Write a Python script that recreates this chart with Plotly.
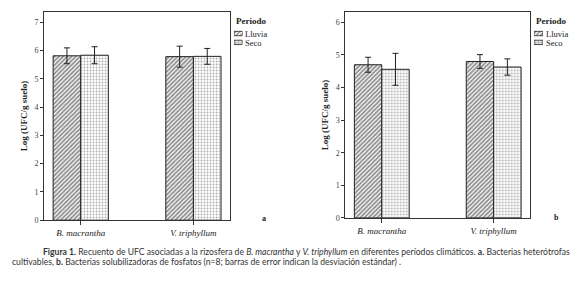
import plotly.graph_objects as go

categories = ["B. macrantha", "V. triphyllum"]
periods = ["Lluvia", "Seco"]

# Panel a: Bacterias heterótrofas cultivables
a_lluvia = [5.81, 5.78]
a_lluvia_err = [0.28, 0.37]
a_seco = [5.83, 5.79]
a_seco_err = [0.30, 0.28]

# Panel b: Bacterias solubilizadoras de fosfatos
b_lluvia = [4.70, 4.80]
b_lluvia_err = [0.23, 0.21]
b_seco = [4.56, 4.63]
b_seco_err = [0.49, 0.25]

y_ticks_a = [0, 1, 2, 3, 4, 5, 6, 7]
y_ticks_b = [0, 1, 2, 3, 4, 5, 6]

W, H = 579, 285
serif = "Liberation Serif, Times New Roman, serif"
ink = "#222222"

patterns = {
    "Lluvia": dict(shape="/", size=3, solidity=0.6, fgcolor="#1e1e1e", bgcolor="white"),
    "Seco": dict(shape=".", size=3, solidity=0.3, fgcolor="#555555", bgcolor="white"),
}

fig = go.Figure()

def add_panel(vals_l, err_l, vals_s, err_s, xa, ya):
    for name, vals, errs in [("Lluvia", vals_l, err_l), ("Seco", vals_s, err_s)]:
        fig.add_trace(go.Bar(
            x=categories, y=vals, name=name,
            xaxis=xa, yaxis=ya, showlegend=False,
            marker=dict(color="white", pattern=patterns[name],
                        line=dict(color=ink, width=1)),
            error_y=dict(type="data", array=errs, color=ink, thickness=1, width=3),
        ))

add_panel(a_lluvia, a_lluvia_err, a_seco, a_seco_err, "x", "y")
add_panel(b_lluvia, b_lluvia_err, b_seco, b_seco_err, "x2", "y2")

# Legend swatches (drawn as tiny horizontal bars in their own axes)
def add_swatches(xa, ya):
    fig.add_trace(go.Bar(
        y=periods, x=[1, 1], orientation="h", xaxis=xa, yaxis=ya, showlegend=False,
        hoverinfo="skip",
        marker=dict(color="white", line=dict(color=ink, width=0.8),
                    pattern=dict(shape=[patterns[p]["shape"] for p in periods],
                                 fgcolor=[patterns[p]["fgcolor"] for p in periods],
                                 bgcolor="white", size=3, solidity=0.5)),
    ))

add_swatches("x3", "y3")
add_swatches("x4", "y4")

def px_x(p):
    return p / W

def px_y(p):
    return 1 - p / H

xcommon = dict(
    type="category", range=[-0.326, 1.322], showline=True, mirror=True,
    linecolor="#333333", linewidth=1, ticks="outside", ticklen=4, tickcolor="#333333",
    tickvals=categories, ticktext=["<i>%s</i>" % c for c in categories],
    tickfont=dict(family=serif, size=9, color=ink), showgrid=False, zeroline=False,
)
ycommon = dict(
    showline=True, mirror=True, linecolor="#333333", linewidth=1,
    ticks="outside", ticklen=3, tickcolor="#333333",
    tickfont=dict(family=serif, size=8, color="#444444"), showgrid=False, zeroline=False,
    title=dict(text="<b>Log (UFC/g suelo)</b>", font=dict(family=serif, size=9, color=ink), standoff=5),
)
hidden = dict(visible=False, showgrid=False, zeroline=False, fixedrange=True)

fig.update_layout(
    width=W, height=H, margin=dict(l=0, r=0, t=0, b=0),
    paper_bgcolor="white", plot_bgcolor="rgba(0,0,0,0)",
    barmode="group", bargap=0.51, bargroupgap=0,
    showlegend=False,
    xaxis=dict(domain=[px_x(36), px_x(221.7)], anchor="y", **xcommon),
    yaxis=dict(domain=[px_y(216), px_y(4)], anchor="x", range=[0, 7.36], tickvals=y_ticks_a, **ycommon),
    xaxis2=dict(domain=[px_x(337.3), px_x(521.7)], anchor="y2", **xcommon),
    yaxis2=dict(domain=[px_y(213.7), px_y(4)], anchor="x2", range=[0, 6.32], tickvals=y_ticks_b, **ycommon),
    xaxis3=dict(domain=[px_x(226), px_x(234.5)], anchor="y3", range=[0, 1], **hidden),
    yaxis3=dict(domain=[px_y(39.5), px_y(21.5)], anchor="x3", type="category",
                categoryorder="array", categoryarray=["Seco", "Lluvia"], **hidden),
    xaxis4=dict(domain=[px_x(526), px_x(535)], anchor="y4", range=[0, 1], **hidden),
    yaxis4=dict(domain=[px_y(39.5), px_y(21.5)], anchor="x4", type="category",
                categoryorder="array", categoryarray=["Seco", "Lluvia"], **hidden),
)

cap_font = dict(family="Lato", size=8.6, color="#333333")
leg_font = dict(family=serif, size=8.5, color=ink)
annotations = []
for lx, sx in [(225.5, 235), (525.5, 536)]:
    annotations.append(dict(text="<b>Periodo</b>", x=px_x(lx), y=px_y(13), xref="paper", yref="paper",
                            xanchor="left", yanchor="middle", showarrow=False,
                            font=dict(family=serif, size=9, color=ink)))
    for p, yy in zip(periods, [26, 35.5]):
        annotations.append(dict(text=p, x=px_x(sx), y=px_y(yy), xref="paper", yref="paper",
                                xanchor="left", yanchor="middle", showarrow=False, font=leg_font))
annotations += [
    dict(text="<b>a</b>", x=px_x(256), y=px_y(221), xref="paper", yref="paper",
         showarrow=False, font=dict(family=serif, size=8, color=ink)),
    dict(text="<b>b</b>", x=px_x(553), y=px_y(220), xref="paper", yref="paper",
         showarrow=False, font=dict(family=serif, size=8, color=ink)),
    dict(text="<b>Figura 1.</b> Recuento de UFC asociadas a la rizosfera de <i>B. macrantha</i> y <i>V. triphyllum</i> en diferentes períodos climáticos. <b>a.</b> Bacterias heterótrofas",
         x=px_x(33), y=px_y(248), xref="paper", yref="paper", xanchor="left", yanchor="middle",
         showarrow=False, font=cap_font),
    dict(text="cultivables, <b>b.</b> Bacterias solubilizadoras de fosfatos (n=8; barras de error indican la desviación estándar) .",
         x=px_x(2), y=px_y(259), xref="paper", yref="paper", xanchor="left", yanchor="middle",
         showarrow=False, font=cap_font),
]
fig.update_layout(annotations=annotations)

fig.write_html("out.html")
